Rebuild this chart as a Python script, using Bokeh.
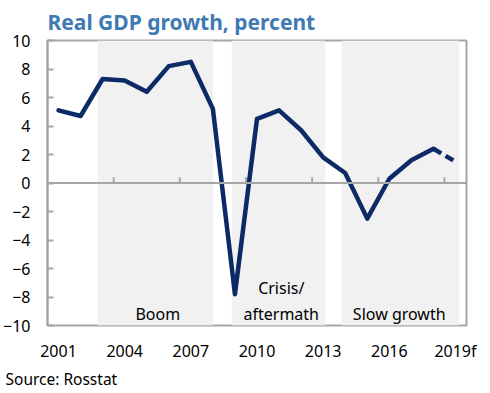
from bokeh.plotting import figure
from bokeh.models import Span, FixedTicker, Title, Range1d
from bokeh.core.properties import value
from bokeh.embed import file_html
from bokeh.resources import INLINE

years = list(range(2001, 2020))
gdp = [5.1, 4.7, 7.3, 7.2, 6.4, 8.2, 8.5, 5.2, -7.8, 4.5, 5.1, 3.7, 1.8, 0.7, -2.5, 0.3, 1.6, 2.4]
forecast_years = [2018, 2019]
forecast = [2.4, 1.5]

tick_years = [2001, 2004, 2007, 2010, 2013, 2016, 2019]
tick_labels = {2019: "2019f"}
y_ticks = list(range(-10, 11, 2))

period_left = [2002.77, 2008.86, 2013.83]
period_right = [2008.01, 2013.09, 2019.17]

period_text = ["Boom", "Crisis/", "aftermath", "Slow growth"]
period_text_x = [2005.5, 2011.1, 2011.1, 2016.45]
period_text_y = [-9.95, -8.15, -9.95, -9.95]

FONT = "Noto Sans"
GRAY = "#a6a6a6"
NAVY = "#0c2a66"

p = figure(frame_width=419, frame_height=285, output_backend="svg", toolbar_location=None,
           x_range=Range1d(2000.5, 2019.5), y_range=Range1d(-10, 10),
           min_border_left=42, min_border_right=13, min_border_top=32, min_border_bottom=0)

p.title.text = "Real GDP growth, percent"
p.title.text_font = FONT
p.title.text_font_size = "21px"
p.title.text_font_style = "bold"
p.title.text_color = "#3f7ab3"
p.title.align = "left"

p.grid.visible = False
p.outline_line_color = GRAY
p.outline_line_width = 2
p.background_fill_color = "white"
p.border_fill_color = "white"

# shaded periods
p.quad(left=period_left, right=period_right, bottom=-10, top=10,
       fill_color="#f1f1f1", line_color=None)

# zero line and ticks
p.add_layout(Span(location=0, dimension="width", line_color=GRAY, line_width=2))
tick_pos = [y + 0.5 for y in years[2::3]]
p.segment(x0=tick_pos, x1=tick_pos, y0=[0] * len(tick_pos), y1=[0.4] * len(tick_pos),
          line_color=GRAY, line_width=2)

# data
p.line(years[:len(gdp)], gdp, line_color=NAVY, line_width=4.5, line_join="round", line_cap="round")
p.line(forecast_years, forecast, line_color=NAVY, line_width=4.5, line_dash="9 5", line_cap="butt")

p.text(x=period_text_x, y=period_text_y, text=period_text, text_align="center",
       text_baseline="bottom", text_font=value(FONT), text_font_size="16px", text_color="black")

# axes
xa = p.xaxis[0]
xa.ticker = FixedTicker(ticks=tick_years)
xa.major_label_overrides = tick_labels
xa.axis_line_color = None
xa.major_tick_line_color = None
xa.major_tick_out = 0
xa.major_tick_in = 0
xa.minor_tick_line_color = None
xa.major_label_standoff = 14
xa.major_label_text_font = FONT
xa.major_label_text_font_size = "16px"
xa.major_label_text_color = "black"

ya = p.yaxis[0]
ya.ticker = FixedTicker(ticks=y_ticks)
ya.axis_line_color = GRAY
ya.axis_line_width = 2
ya.major_tick_in = 6
ya.major_tick_out = 0
ya.major_tick_line_color = GRAY
ya.major_tick_line_width = 2
ya.minor_tick_line_color = None
ya.major_label_standoff = 17
ya.major_label_text_font = FONT
ya.major_label_text_font_size = "16px"
ya.major_label_text_color = "black"

src = Title(text="Source: Rosstat", align="left", offset=-42, standoff=2, text_font=FONT,
            text_font_size="15.5px", text_font_style="normal", text_color="black")
p.add_layout(src, "below")

open("out.html", "w").write(file_html(p, INLINE))
